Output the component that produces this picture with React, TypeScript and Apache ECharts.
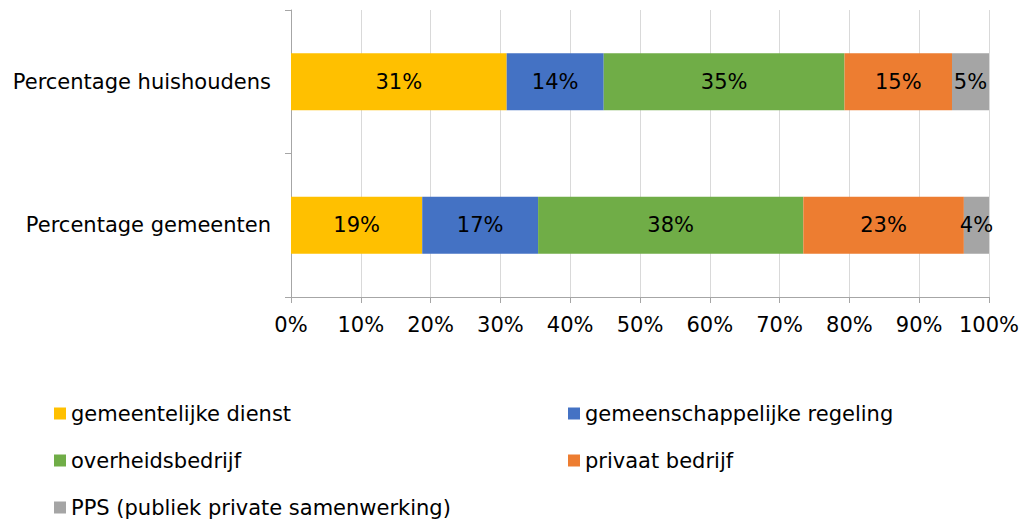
import React, { useEffect, useRef } from "react";
import * as echarts from "echarts";

const categories = ["Percentage huishoudens", "Percentage gemeenten"];
const seriesNames = [
  "gemeentelijke dienst",
  "gemeenschappelijke regeling",
  "overheidsbedrijf",
  "privaat bedrijf",
  "PPS (publiek private samenwerking)",
];
const gemeentelijkeDienst = [30.9, 18.8];
const gemeenschappelijkeRegeling = [13.9, 16.6];
const overheidsbedrijf = [34.5, 38.0];
const privaatBedrijf = [15.4, 23.0];
const pps = [5.3, 3.6];
const colors = ["#FFC000", "#4472C4", "#70AD47", "#ED7D31", "#A5A5A5"];
const xTicks = [0, 10, 20, 30, 40, 50, 60, 70, 80, 90, 100];

const FONT = "DejaVu Sans, Verdana, sans-serif";
const FS = 21;

export default function App() {
  const ref = useRef<HTMLDivElement>(null);
  useEffect(() => {
    if (!ref.current) return;
    const chart = echarts.init(ref.current, undefined, { renderer: "svg" });
    const allData = [gemeentelijkeDienst, gemeenschappelijkeRegeling, overheidsbedrijf, privaatBedrijf, pps];
    const legendCommon = {
      orient: "vertical" as const,
      icon: "rect",
      itemWidth: 12,
      itemHeight: 12,
      itemGap: 26,
      height: 160,
      width: 460,
      textStyle: { fontFamily: FONT, fontSize: FS, color: "#000", lineHeight: 21 },
      selectedMode: false,
    };
    chart.setOption({
      animation: false,
      textStyle: { fontFamily: FONT },
      grid: { left: 291, right: 38, top: 10, bottom: 222, containLabel: false },
      xAxis: {
        type: "value",
        min: xTicks[0],
        max: xTicks[xTicks.length - 1],
        interval: 10,
        axisLine: { show: true, lineStyle: { color: "#a6a6a6", width: 1 } },
        axisTick: { show: true, length: 6, lineStyle: { color: "#a6a6a6" } },
        axisLabel: { formatter: "{value}%", fontFamily: FONT, fontSize: FS, color: "#000", margin: 17 },
        splitLine: { show: true, lineStyle: { color: "#d9d9d9", width: 1 } },
      },
      yAxis: {
        type: "category",
        data: categories,
        inverse: true,
        axisLine: { show: true, lineStyle: { color: "#a6a6a6", width: 1 } },
        axisTick: { show: true, length: 6, lineStyle: { color: "#a6a6a6" } },
        axisLabel: { fontFamily: FONT, fontSize: FS, color: "#000", margin: 20 },
      },
      legend: [
        { ...legendCommon, data: [seriesNames[0], seriesNames[2], seriesNames[4]], left: 49, top: 398 },
        { ...legendCommon, data: [seriesNames[1], seriesNames[3]], left: 563, top: 398 },
      ],
      series: seriesNames.map((name, i) => ({
        name,
        type: "bar",
        stack: "total",
        barWidth: 57,
        data: allData[i],
        itemStyle: { color: colors[i] },
        label: {
          show: true,
          position: "inside",
          formatter: (p: any) => Math.round(p.value) + "%",
          fontFamily: FONT,
          fontSize: FS,
          color: "#000",
        },
      })),
    });
    return () => chart.dispose();
  }, []);
  return <div ref={ref} style={{ width: 1027, height: 519, position: "absolute", left: 0, top: 0 }} />;
}
